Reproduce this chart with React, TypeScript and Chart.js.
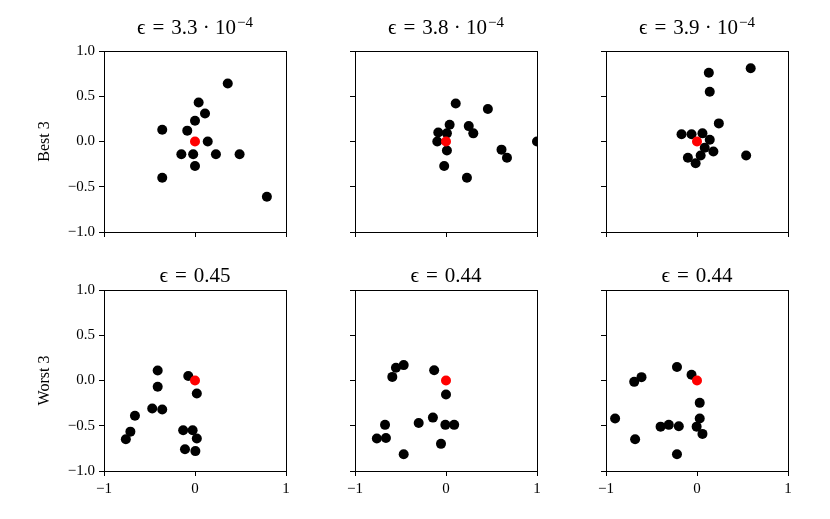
import React, { useEffect, useRef } from "react";
import { Chart, registerables } from "chart.js";

Chart.register(...registerables);

const titleBase = [
  "ϵ\u2004=\u20043.3 · 10",
  "ϵ\u2004=\u20043.8 · 10",
  "ϵ\u2004=\u20043.9 · 10",
  "ϵ\u2004=\u20040.45",
  "ϵ\u2004=\u20040.44",
  "ϵ\u2004=\u20040.44",
];
const titleSup = ["−4", "−4", "−4", "", "", ""];
const rowLabels = ["Best 3", "Worst 3"];
const yTickLabels = ["−1.0", "−0.5", "0.0", "0.5", "1.0"];
const xTickLabels = ["−1", "0", "1"];
const yTickValues = [-1, -0.5, 0, 0.5, 1];
const xTickValues = [-1, 0, 1];

const centerX = [0];
const centerY = [0];

const best1X = [0.36, 0.04, 0.11, 0.0, -0.36, -0.085, 0.14, -0.15, -0.02, 0.23, 0.49, 0.0, -0.36, 0.79];
const best1Y = [0.64, 0.43, 0.31, 0.23, 0.13, 0.12, 0.0, -0.14, -0.14, -0.14, -0.14, -0.27, -0.4, -0.61];

const best2X = [0.107, 0.46, 0.04, 0.25, -0.085, 0.01, 0.3, -0.096, 1.0, 0.01, 0.61, 0.67, -0.02, 0.23];
const best2Y = [0.42, 0.36, 0.185, 0.17, 0.1, 0.09, 0.09, 0.0, 0.0, -0.1, -0.09, -0.18, -0.27, -0.4];

const best3X = [0.59, 0.13, 0.14, 0.24, -0.17, -0.06, 0.06, 0.14, 0.085, 0.18, 0.04, -0.1, -0.015, 0.54];
const best3Y = [0.81, 0.76, 0.55, 0.2, 0.08, 0.08, 0.09, 0.02, -0.07, -0.11, -0.155, -0.18, -0.24, -0.155];

const worst1X = [-0.41, -0.41, -0.074, 0.02, -0.47, -0.36, -0.66, -0.71, -0.76, -0.13, -0.026, 0.02, -0.11, 0.004];
const worst1Y = [0.11, -0.07, 0.05, -0.144, -0.31, -0.32, -0.39, -0.565, -0.65, -0.55, -0.55, -0.64, -0.76, -0.78];

const worst2X = [-0.465, -0.55, -0.59, -0.13, 0.0, -0.144, -0.3, -0.67, -0.007, 0.09, -0.76, -0.66, -0.055, -0.465];
const worst2Y = [0.17, 0.14, 0.04, 0.114, -0.155, -0.41, -0.47, -0.49, -0.49, -0.49, -0.64, -0.635, -0.7, -0.815];

const worst3X = [-0.22, -0.06, -0.61, -0.69, 0.03, -0.9, 0.03, -0.4, -0.31, -0.2, -0.004, 0.06, -0.68, -0.22];
const worst3Y = [0.15, 0.063, 0.037, -0.015, -0.247, -0.42, -0.42, -0.51, -0.49, -0.505, -0.51, -0.59, -0.65, -0.815];

const panelXs = [best1X, best2X, best3X, worst1X, worst2X, worst3X];
const panelYs = [best1Y, best2Y, best3Y, worst1Y, worst2Y, worst3Y];

const FONT = "'Liberation Serif', 'DejaVu Serif', serif";
const plotLefts = [104, 355, 606];
const plotTops = [51, 290];
const plotW = 182;
const plotH = 181;
const TOP_BLOCK = 36;
const PAD_R = 10;
const TITLE_SIZE = 21;
const SUP_SIZE = 15;
const titleGap = [17, 8];

const framePlugin = {
  id: "frame",
  afterDraw(chart: any) {
    const { ctx, chartArea: a } = chart;
    ctx.save();
    ctx.strokeStyle = "#000";
    ctx.lineWidth = 1;
    ctx.strokeRect(Math.round(a.left) + 0.5, Math.round(a.top) + 0.5, Math.round(a.right) - Math.round(a.left), Math.round(a.bottom) - Math.round(a.top));
    ctx.restore();
  },
};

const mathTitlePlugin = {
  id: "mathTitle",
  afterDraw(chart: any, _args: any, opts: any) {
    const { ctx, chartArea: a } = chart;
    const base: string = opts.base || "";
    const sup: string = opts.sup || "";
    ctx.save();
    ctx.fillStyle = "#000";
    ctx.textBaseline = "alphabetic";
    ctx.textAlign = "left";
    ctx.font = `${TITLE_SIZE}px ${FONT}`;
    const wb = ctx.measureText(base).width;
    ctx.font = `${SUP_SIZE}px ${FONT}`;
    const ws = sup ? ctx.measureText(sup).width + 1 : 0;
    const x0 = (a.left + a.right) / 2 - (wb + ws) / 2;
    const baseline = a.top - opts.gap;
    ctx.font = `${TITLE_SIZE}px ${FONT}`;
    ctx.fillText(base, x0, baseline);
    if (sup) {
      ctx.font = `${SUP_SIZE}px ${FONT}`;
      ctx.fillText(sup, x0 + wb + 1, baseline - 7);
    }
    ctx.restore();
  },
};

function Panel({ index }: { index: number }) {
  const ref = useRef<HTMLCanvasElement | null>(null);
  const row = Math.floor(index / 3);
  const col = index % 3;
  const YW = col === 0 ? 69 : 20;
  const XH = row === 1 ? 32 : 16;
  const left = plotLefts[col] - YW;
  const top = plotTops[row] - TOP_BLOCK;
  const width = YW + plotW + PAD_R;
  const height = TOP_BLOCK + plotH + XH;

  useEffect(() => {
    if (!ref.current) return;
    const xs = panelXs[index];
    const ys = panelYs[index];
    const pts = xs.map((x, i) => ({ x, y: ys[i] }));
    const chart = new Chart(ref.current, {
      type: "scatter",
      data: {
        datasets: [
          {
            data: centerX.map((x, i) => ({ x, y: centerY[i] })),
            backgroundColor: "#ff0000",
            borderWidth: 0,
            pointRadius: 5,
            pointHoverRadius: 5,
            clip: 0,
          } as any,
          {
            data: pts,
            backgroundColor: "#000000",
            borderWidth: 0,
            pointRadius: 5,
            pointHoverRadius: 5,
            clip: 0,
          } as any,
        ],
      },
      options: {
        animation: false,
        responsive: false,
        maintainAspectRatio: false,
        events: [],
        layout: { padding: { left: 0, top: TOP_BLOCK, right: PAD_R, bottom: 0 } },
        plugins: {
          legend: { display: false },
          tooltip: { enabled: false },
          title: { display: false },
          mathTitle: { base: titleBase[index], sup: titleSup[index], gap: titleGap[row] },
        },
        scales: {
          x: {
            type: "linear",
            min: -1,
            max: 1,
            afterFit: (s: any) => {
              s.height = XH;
            },
            afterBuildTicks: (s: any) => {
              s.ticks = xTickValues.map((v) => ({ value: v }));
            },
            grid: {
              display: true,
              drawOnChartArea: false,
              drawTicks: true,
              tickLength: 5,
              tickColor: "#000",
              tickWidth: 1,
            },
            border: { display: false },
            ticks: {
              display: row === 1,
              color: "#000",
              padding: 4,
              maxRotation: 0,
              font: { family: FONT, size: 15 },
              callback: (v: any) => {
                const i = xTickValues.indexOf(Number(v));
                return i >= 0 ? xTickLabels[i] : "";
              },
            },
          },
          y: {
            type: "linear",
            min: -1,
            max: 1,
            afterFit: (s: any) => {
              s.width = YW;
            },
            afterBuildTicks: (s: any) => {
              s.ticks = yTickValues.map((v) => ({ value: v }));
            },
            grid: {
              display: true,
              drawOnChartArea: false,
              drawTicks: true,
              tickLength: 5,
              tickColor: "#000",
              tickWidth: 1,
            },
            border: { display: false },
            title: {
              display: col === 0,
              text: rowLabels[row],
              color: "#000",
              font: { family: FONT, size: 16, lineHeight: 1.2 },
              padding: { top: 0, bottom: 0 },
            },
            ticks: {
              display: col === 0,
              color: "#000",
              padding: 4,
              font: { family: FONT, size: 15 },
              callback: (v: any) => {
                const i = yTickValues.indexOf(Number(v));
                return i >= 0 ? yTickLabels[i] : "";
              },
            },
          },
        },
      } as any,
      plugins: [framePlugin, mathTitlePlugin],
    });
    return () => chart.destroy();
  }, [index]);

  return (
    <div style={{ position: "absolute", left, top, width, height }}>
      <canvas ref={ref} width={width} height={height} style={{ width, height, display: "block" }} />
    </div>
  );
}

export default function App() {
  return (
    <div style={{ position: "absolute", left: 0, top: 0, width: 830, height: 519, background: "#fff", overflow: "hidden" }}>
      {[0, 1, 2, 3, 4, 5].map((i) => (
        <Panel key={i} index={i} />
      ))}
    </div>
  );
}
